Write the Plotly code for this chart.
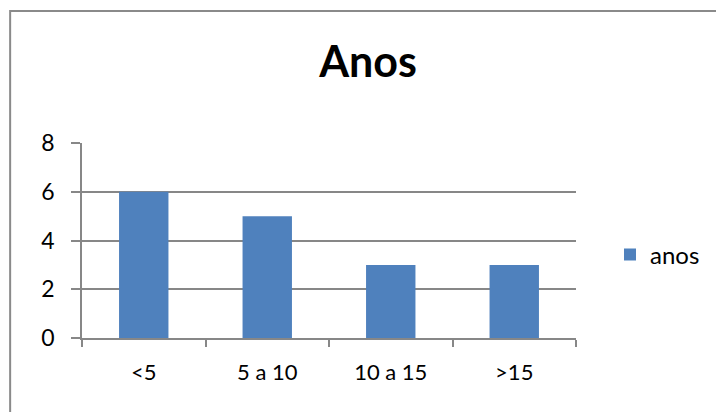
import plotly.graph_objects as go

categories = ["<5", "5 a 10", "10 a 15", ">15"]
values = [6, 5, 3, 3]
series_name = "anos"
title_text = "Anos"
y_ticks = [0, 2, 4, 6, 8]

FONT = "Lato, Open Sans, sans-serif"
GRID = "#878787"

fig = go.Figure()
fig.add_trace(go.Bar(x=categories, y=values, name=series_name,
                     marker=dict(color="#4F81BD", line=dict(width=0)),
                     showlegend=True))

fig.update_layout(
    width=716, height=412,
    margin=dict(l=82, r=139, t=143, b=74),
    paper_bgcolor="white", plot_bgcolor="white",
    font=dict(family=FONT, size=22, color="black"),
    bargap=0.6,
    title=dict(text="<b>" + title_text + "</b>", x=(368 / 716), xanchor="center",
               y=1 - 62 / 412, yanchor="middle",
               font=dict(family=FONT, size=43, color="black")),
    showlegend=True,
    legend=dict(x=(610 - 82) / 495, y=0.426, xanchor="left", yanchor="middle",
                font=dict(family=FONT, size=24), itemwidth=30,
                bgcolor="rgba(0,0,0,0)"),
    xaxis=dict(showline=True, linecolor=GRID, linewidth=1.5,
               ticks="outside", ticklen=7, tickcolor=GRID, tickwidth=1.5,
               tickson="boundaries", showgrid=False,
               ticklabelstandoff=14, tickfont=dict(size=22)),
    yaxis=dict(range=[0, 8], tickvals=y_ticks, showline=True, linecolor=GRID,
               linewidth=1.5, ticks="outside", ticklen=9, tickcolor=GRID,
               tickwidth=1.5, showgrid=True, gridcolor=GRID, gridwidth=1.5,
               zeroline=False, ticklabelstandoff=12, tickfont=dict(size=23)),
)

fig.add_shape(type="rect", xref="paper", yref="paper",
              x0=(10 - 82) / 495, x1=2.0, y0=-2.0, y1=(338 - 11) / 195,
              line=dict(color="#8a8a8a", width=2), fillcolor="rgba(0,0,0,0)",
              layer="below")

fig.write_html("out.html", config={"displayModeBar": False},
               post_script="document.body.style.margin='0px';")
